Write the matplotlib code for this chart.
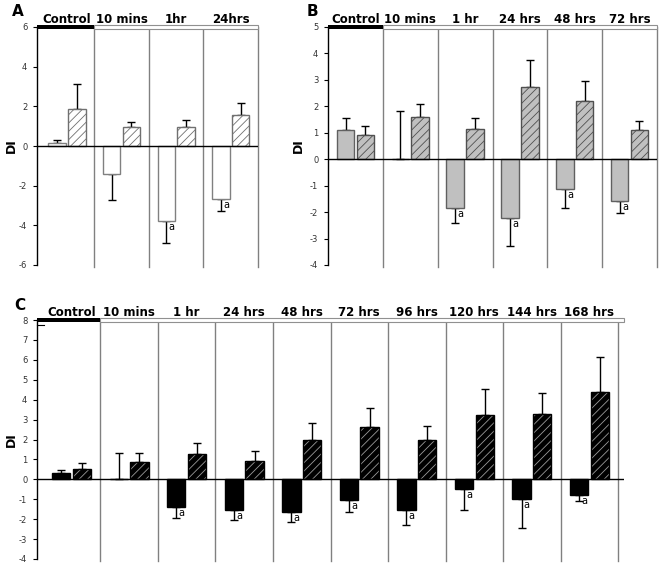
import numpy as np
import matplotlib
matplotlib.use("Agg")
import matplotlib.pyplot as plt
from matplotlib.patches import Rectangle
import matplotlib.transforms as mtransforms

plt.rcParams['hatch.linewidth'] = 0.6

# ---- data ----
groups_a = ['Control', '10 mins', '1hr', '24hrs']
a_open = [0.15, -1.40, -3.80, -2.65]
a_open_err = [0.13, 1.30, 1.10, 0.65]
a_hatch = [1.85, 0.95, 0.95, 1.55]
a_hatch_err = [1.30, 0.25, 0.35, 0.60]
a_sig = [False, False, True, True]

groups_b = ['Control', '10 mins', '1 hr', '24 hrs', '48 hrs', '72 hrs']
b_open = [1.10, 0.02, -1.83, -2.21, -1.11, -1.58]
b_open_err = [0.45, 1.82, 0.58, 1.09, 0.72, 0.44]
b_hatch = [0.91, 1.59, 1.14, 2.73, 2.20, 1.10]
b_hatch_err = [0.34, 0.48, 0.41, 1.02, 0.75, 0.36]
b_sig = [False, False, True, True, True, True]

groups_c = ['Control', '10 mins', '1 hr', '24 hrs', '48 hrs', '72 hrs',
            '96 hrs', '120 hrs', '144 hrs', '168 hrs']
c_open = [0.33, 0.02, -1.41, -1.54, -1.64, -1.04, -1.54, -0.49, -0.99, -0.80]
c_open_err = [0.14, 1.32, 0.52, 0.50, 0.52, 0.60, 0.74, 1.03, 1.47, 0.27]
c_hatch = [0.52, 0.85, 1.26, 0.90, 1.96, 2.61, 1.96, 3.22, 3.30, 4.39]
c_hatch_err = [0.32, 0.49, 0.55, 0.51, 0.85, 0.96, 0.74, 1.34, 1.02, 1.74]
c_sig = [False, False, True, True, True, True, True, True, True, True]

W, H = 661, 567
fig = plt.figure(figsize=(W / 100, H / 100), dpi=100)


def box(l, r, t, b):
    return [l / W, 1 - b / H, (r - l) / W, (b - t) / H]


def panel(rect, groups, v1, e1, v2, e2, sig, ylim, yticks, style, letter, letter_xy, label_x, xlim):
    ax = fig.add_axes(box(*rect))
    n = len(groups)
    x = np.arange(n) + 0.5
    bw = 0.32
    off = 0.18
    fc1, ec1, fc2, hc2, ec2 = style

    ax.bar(x - off, v1, bw, color=fc1, edgecolor=ec1, linewidth=1, zorder=3)
    # hatched bars: hatch drawn in its own colour, outline drawn on top
    ax.bar(x + off, v2, bw, color=fc2, edgecolor=hc2, hatch='////', linewidth=0, zorder=3)
    ax.bar(x + off, v2, bw, color='none', edgecolor=ec2, linewidth=1, zorder=4)

    for xi, v, e in zip(x - off, v1, e1):
        yerr = [[0], [e]] if v >= 0 else [[e], [0]]
        ax.errorbar(xi, v, yerr=yerr, color='black', lw=1, capsize=3, capthick=1, zorder=2)
    for xi, v, e in zip(x + off, v2, e2):
        yerr = [[0], [e]] if v >= 0 else [[e], [0]]
        ax.errorbar(xi, v, yerr=yerr, color='black', lw=1, capsize=3, capthick=1, zorder=2)

    for xi, v, s in zip(x - off, v1, sig):
        if s:
            ax.text(xi + 0.04, v - 0.05 * (ylim[1] - ylim[0]) / 12, 'a', fontsize=7,
                    ha='left', va='top', zorder=5)

    ax.axhline(0, color='black', lw=1, zorder=5)
    tr = mtransforms.blended_transform_factory(ax.transData, ax.transAxes)
    for d in range(1, n + 1):
        xd = min(d, xlim[1])
        ax.plot([xd, xd], [-0.01, 1], color='#808080', lw=1, transform=tr,
                clip_on=False, zorder=1)
    ax.set_xlim(*xlim)
    ax.set_ylim(*ylim)
    ax.set_yticks(yticks)
    ax.set_yticklabels([str(t) for t in yticks], fontsize=6, color='#333333')
    ax.tick_params(axis='y', direction='out', length=3, width=0.8, pad=4)
    ax.set_xticks([])
    for s in ['top', 'right', 'bottom']:
        ax.spines[s].set_visible(False)
    ax.spines['left'].set_linewidth(1)

    mid = (rect[2] + rect[3]) / 2
    fig.text(label_x / W, 1 - mid / H, 'DI', fontsize=9, fontweight='bold',
             rotation=90, ha='center', va='center')

    # header strip
    ax.add_patch(Rectangle((1, 0.993), xlim[1] - 1, 0.014, transform=tr, facecolor='white',
                           edgecolor='#909090', lw=0.8, clip_on=False, zorder=6))
    ax.add_patch(Rectangle((xlim[0], 0.99), 1 - xlim[0], 0.018, transform=tr, facecolor='black',
                           edgecolor='black', lw=0, clip_on=False, zorder=7))
    for xi, g in zip(x, groups):
        ax.text(xi, 1.033, g, transform=tr, ha='center', va='center',
                fontsize=8.5, fontweight='bold')
    fig.text(letter_xy[0] / W, 1 - letter_xy[1] / H, letter, fontsize=11,
             fontweight='bold', ha='center', va='center')
    return ax


panel((37, 258, 27, 265), groups_a, a_open, a_open_err, a_hatch, a_hatch_err, a_sig,
      (-6, 6), list(range(-6, 7, 2)),
      ('white', '#808080', 'white', '#707070', '#707070'), 'A', (18, 12), 11, (-0.05, 4))

panel((328, 657, 27, 265), groups_b, b_open, b_open_err, b_hatch, b_hatch_err, b_sig,
      (-4, 5), list(range(-4, 6)),
      ('#c0c0c0', '#606060', '#c0c0c0', '#505050', '#505050'), 'B', (312, 12), 298, (0, 6))

axc = panel((37, 624, 320, 559), groups_c, c_open, c_open_err, c_hatch, c_hatch_err, c_sig,
            (-4, 8), list(range(-4, 9)),
            ('black', 'black', 'black', '#9a9a9a', 'black'), 'C', (20, 305), 11, (-0.1, 10.1))
# small stray tick just below the top of panel C
axc.plot([-0.1, 0.02], [7.75, 7.75], color='black', lw=0.8, clip_on=False)

fig.savefig('out.png', dpi=100)
